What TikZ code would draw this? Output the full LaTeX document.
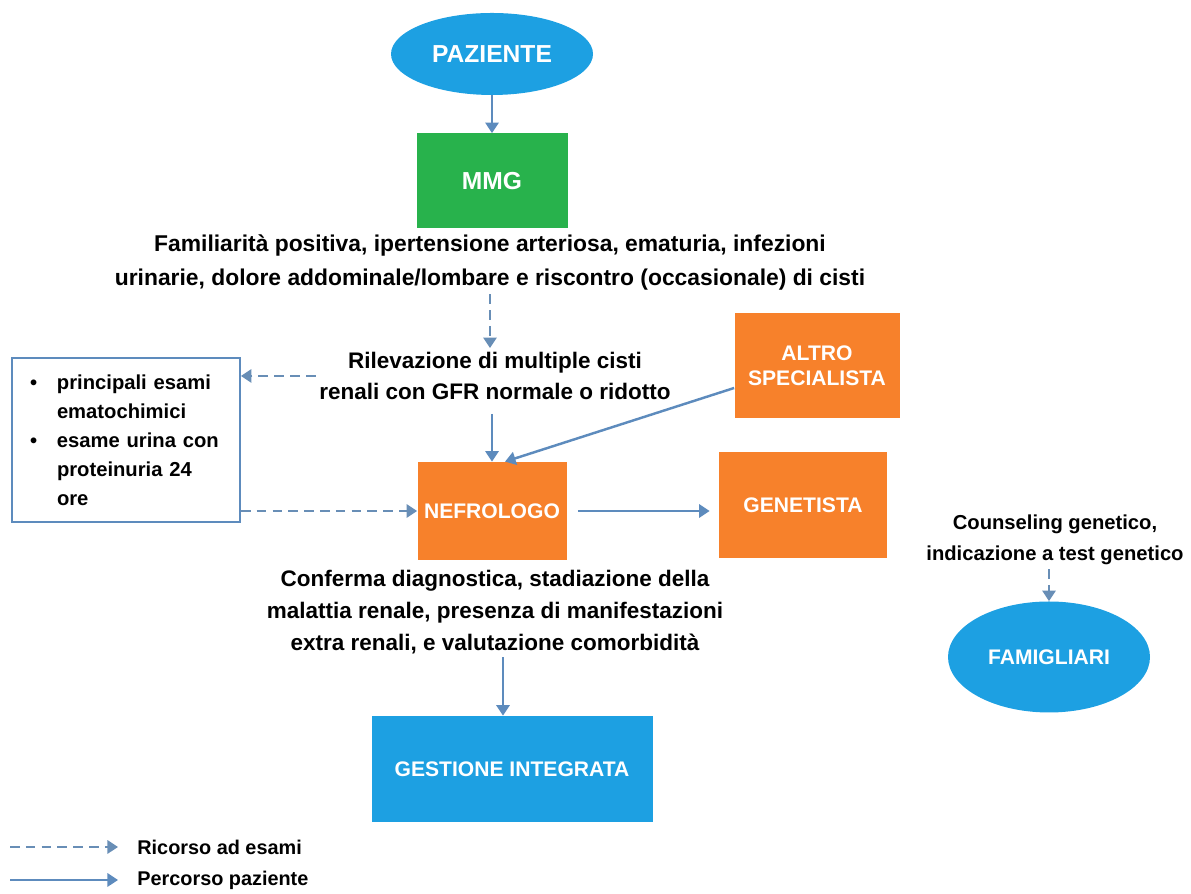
\documentclass[tikz,border=0pt]{standalone}
\usepackage{fontspec}
\setmainfont{Liberation Sans}
\usetikzlibrary{shapes.geometric,arrows.meta}

\begin{document}
\begin{tikzpicture}[%
  percorso/.style={draw={rgb,255:red,93;green,139;blue,189}, line width=1.4pt, -{Triangle[length=6pt,width=7.5pt]}},%
  ricorso/.style={percorso, draw={rgb,255:red,104;green,142;blue,182}, dash pattern=on 5.5pt off 3.5pt},%
  oval/.style={ellipse, fill={rgb,255:red,29;green,160;blue,226}, text=white, inner sep=0pt, font=\bfseries\fontsize{12.000000}{14.400000}\selectfont},%
  blocco/.style={rectangle, text=white, inner sep=0pt, align=center, font=\bfseries\fontsize{12.000000}{14.400000}\selectfont},%
  arancio/.style={blocco, fill={rgb,255:red,247;green,129;blue,43}},%
  testo/.style={align=center, inner sep=2pt, font=\bfseries\fontsize{12.800000}{18.000000}\selectfont}%
]%
\useasboundingbox (0,0) rectangle (23.82,17.88);%
\node[oval, minimum width=4.04cm, minimum height=1.64cm, font=\bfseries\fontsize{14.000000}{16.800000}\selectfont] (paziente) at (9.84,16.80) {PAZIENTE};%
\node[blocco, fill={rgb,255:red,40;green,178;blue,76}, minimum width=3.02cm, minimum height=1.90cm, font=\bfseries\fontsize{14.000000}{16.800000}\selectfont] (mmg) at (9.84,14.26) {MMG};%
\node[testo, font=\bfseries\fontsize{13.000000}{19.500000}\selectfont] (familiarita) at (9.80,12.63) {Familiarità positiva, ipertensione arteriosa, ematuria, infezioni\\urinarie, dolore addominale/lombare e riscontro (occasionale) di cisti};%
\node[testo] (rilevazione) at (9.90,10.36) {Rilevazione di multiple cisti\\renali con GFR normale o ridotto};%
\node[arancio, minimum width=2.98cm, minimum height=1.96cm] (nefrologo) at (9.84,7.66) {NEFROLOGO};%
\node[arancio, minimum width=3.30cm, minimum height=2.10cm] (altro) at (16.34,10.56) {ALTRO\\SPECIALISTA};%
\node[arancio, minimum width=3.36cm, minimum height=2.12cm] (genetista) at (16.06,7.78) {GENETISTA};%
\node[draw={rgb,255:red,93;green,139;blue,189}, line width=1pt, minimum width=4.56cm, minimum height=3.28cm, text width=3.84cm, inner xsep=0.36cm, inner ysep=0pt, align=left, font=\bfseries\fontsize{11.500000}{16.500000}\selectfont] (esami) at (2.52,9.08) {\makebox[0.54cm][l]{•}principali esami\\\hspace*{0.54cm}ematochimici\\\makebox[0.54cm][l]{•}esame urina con\\\hspace*{0.54cm}proteinuria 24\\\hspace*{0.54cm}ore};%
\node[testo, font=\bfseries\fontsize{11.500000}{18.000000}\selectfont] (counseling) at (21.10,7.08) {Counseling genetico,\\indicazione a test genetico};%
\node[oval, minimum width=4.04cm, minimum height=2.22cm] (famigliari) at (20.98,4.74) {FAMIGLIARI};%
\node[testo] (conferma) at (9.90,5.64) {Conferma diagnostica, stadiazione della\\malattia renale, presenza di manifestazioni\\extra renali, e valutazione comorbidità};%
\node[blocco, fill={rgb,255:red,29;green,160;blue,226}, minimum width=5.62cm, minimum height=2.12cm] (gestione) at (10.24,2.50) {GESTIONE INTEGRATA};%
\draw[percorso] (paziente) -- (mmg);%
\draw[ricorso] (familiarita.south) -- (familiarita.south |- rilevazione.north);%
\draw[percorso, shorten <=0.2cm] (rilevazione.south -| nefrologo.north) -- (nefrologo.north);%
\draw[percorso] ([yshift=-0.44cm]altro.west) -- ([xshift=0.26cm]nefrologo.north);%
\draw[ricorso] (rilevazione.west) -- (rilevazione.west -| esami.east);%
\draw[ricorso] (nefrologo.west -| esami.east) -- (nefrologo.west);%
\draw[percorso, shorten <=0.22cm, shorten >=0.18cm] (nefrologo.east) -- (nefrologo.east -| genetista.west);%
\draw[ricorso] (counseling.south -| famigliari.north) -- (famigliari.north);%
\draw[percorso] ([xshift=-0.18cm]gestione.north |- conferma.south) -- ([xshift=-0.18cm]gestione.north);%
\coordinate (r0) at (0.20,0.94);%
\coordinate (r1) at (2.36,0.94);%
\coordinate (p0) at (0.20,0.28);%
\coordinate (p1) at (2.36,0.28);%
\node[anchor=west, inner sep=0pt, font=\bfseries\fontsize{11.300000}{13.600000}\selectfont] (legricorso) at (2.74,0.94) {Ricorso ad esami};%
\node[anchor=west, inner sep=0pt, font=\bfseries\fontsize{11.300000}{13.600000}\selectfont] (legpercorso) at (2.74,0.28) {Percorso paziente};%
\draw[ricorso] (r0) -- (r1);%
\draw[percorso] (p0) -- (p1);%
\end{tikzpicture}
\end{document}
